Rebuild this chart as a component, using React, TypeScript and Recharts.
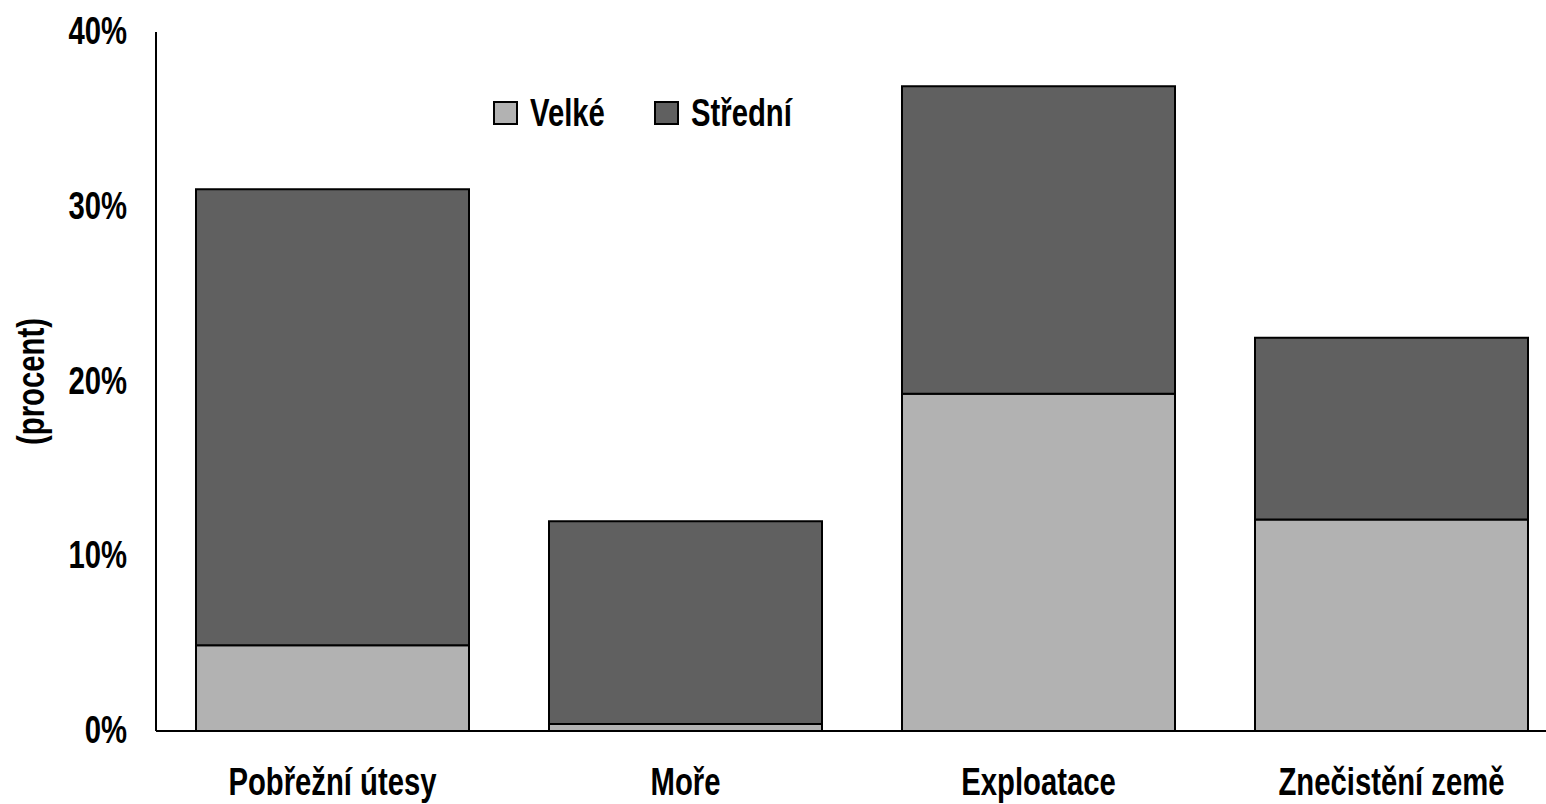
import React from 'react';
import { BarChart, Bar, XAxis, YAxis, Label } from 'recharts';

// categories and values (percent)
const categories = ['Pobřežní útesy', 'Moře', 'Exploatace', 'Znečistění země'];
const velke = [4.9, 0.4, 19.3, 12.1];
const stredni = [26.1, 11.6, 17.6, 10.4];
const yTicks = [0, 10, 20, 30, 40];
const seriesNames = ['Velké', 'Střední'];
const seriesColors = ['#b2b2b2', '#606060'];

const data = categories.map((name, i) => ({
  name,
  velke: velke[i],
  stredni: stredni[i],
}));

// Arial-metric font squeezed horizontally to look like Arial Narrow Bold
const FONT = '"Liberation Sans", Arial, sans-serif';
const FS = 38;
const SQUEEZE = 0.77;

const NarrowText = ({ x, y, anchor, children }) => (
  <g transform={`translate(${x},${y}) scale(${SQUEEZE},1)`}>
    <text x={0} y={0} textAnchor={anchor} fill="#000" fontSize={FS} fontWeight="bold" fontFamily={FONT}>
      {children}
    </text>
  </g>
);

const XTick = ({ x, y, payload }) => (
  <NarrowText x={x} y={y + 62} anchor="middle">{payload.value}</NarrowText>
);

const YTick = ({ x, y, payload }) => (
  <NarrowText x={127} y={y + 12} anchor="end">{`${payload.value}%`}</NarrowText>
);

export default function App() {
  return (
    <div style={{ position: 'absolute', left: 0, top: 0, width: 1546, height: 804, overflow: 'hidden', background: '#fff' }}>
      <BarChart
        width={1590}
        height={804}
        data={data}
        margin={{ top: 32, right: 22, left: 0, bottom: 0 }}
        barCategoryGap={40}
      >
        <XAxis
          dataKey="name"
          height={73}
          axisLine={{ stroke: '#000', strokeWidth: 2 }}
          tickLine={false}
          tickSize={0}
          tick={XTick}
        />
        <YAxis
          width={156}
          domain={[0, 40]}
          ticks={yTicks}
          interval={0}
          axisLine={{ stroke: '#000', strokeWidth: 2 }}
          tickLine={false}
          tickSize={0}
          tick={YTick}
        >
          <Label
            content={({ viewBox }) => {
              const cy = viewBox.y + viewBox.height / 2;
              return (
                <g transform={`translate(31,${cy}) rotate(-90) scale(${SQUEEZE},1)`}>
                  <text
                    x={0}
                    y={0}
                    textAnchor="middle"
                    dominantBaseline="central"
                    fill="#000"
                    fontSize={FS}
                    fontWeight="bold"
                    fontFamily={FONT}
                  >
                    (procent)
                  </text>
                </g>
              );
            }}
          />
        </YAxis>
        <Bar dataKey="velke" name={seriesNames[0]} stackId="a" fill={seriesColors[0]} stroke="#000" strokeWidth={2} isAnimationActive={false} />
        <Bar dataKey="stredni" name={seriesNames[1]} stackId="a" fill={seriesColors[1]} stroke="#000" strokeWidth={2} isAnimationActive={false} />
      </BarChart>
      <svg width={400} height={50} style={{ position: 'absolute', left: 480, top: 88 }}>
        {seriesNames.map((name, i) => {
          const ox = 14 + i * 161;
          return (
            <g key={name}>
              <rect x={ox} y={14} width={23} height={22} fill={seriesColors[i]} stroke="#000" strokeWidth={2} />
              <NarrowText x={ox + 36} y={38} anchor="start">{name}</NarrowText>
            </g>
          );
        })}
      </svg>
    </div>
  );
}
